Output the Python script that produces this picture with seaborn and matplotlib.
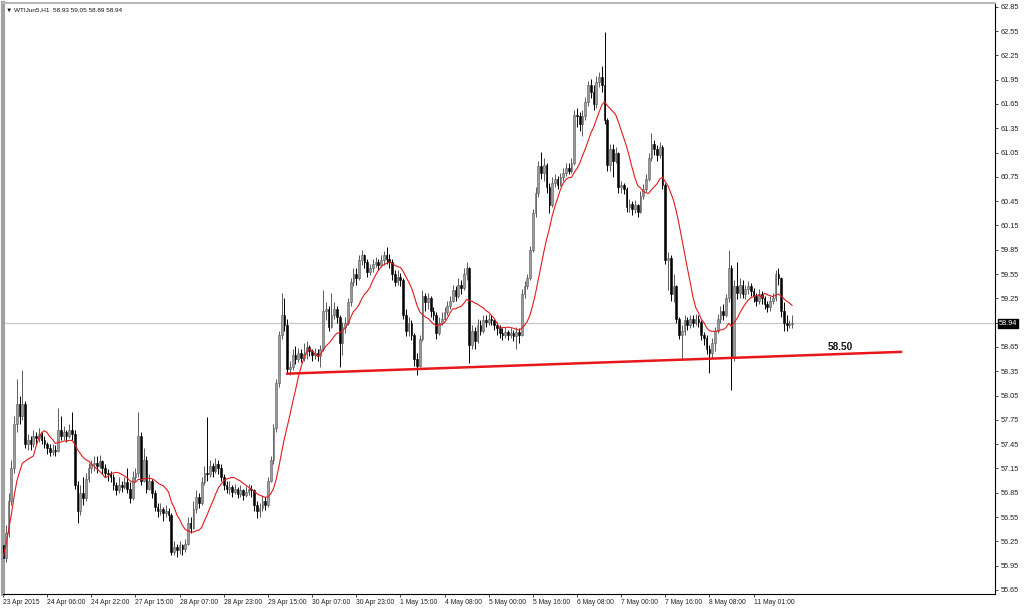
import numpy as np
import pandas as pd
import matplotlib
matplotlib.use("Agg")
import matplotlib.pyplot as plt
import seaborn as sns

# WTI Jun5 hourly bars (open of each bar = previous close)
first_open = 56.20
closes = [
    56.05, 56.35, 56.75, 57.15, 57.70, 57.95, 57.80, 57.95, 57.45, 57.50, 57.45, 57.55, 57.52, 57.58, 57.50, 57.45,
    57.40, 57.35, 57.38, 57.36, 57.62, 57.55, 57.60, 57.55, 57.62, 57.58, 56.95, 56.62, 56.85, 56.78, 57.02, 57.15,
    57.20, 57.22, 57.18, 57.24, 57.15, 57.10, 57.08, 57.05, 56.95, 56.88, 56.95, 56.92, 56.98, 56.90, 56.78, 57.05,
    57.10, 57.55, 57.00, 57.25, 56.90, 57.00, 56.85, 56.68, 56.62, 56.65, 56.60, 56.63, 56.58, 56.12, 56.18, 56.14,
    56.20, 56.15, 56.22, 56.48, 56.42, 56.65, 56.80, 56.72, 56.98, 57.10, 57.08, 57.18, 57.12, 57.20, 57.15, 57.05,
    56.95, 56.90, 56.92, 56.86, 56.90, 56.84, 56.88, 56.82, 56.86, 56.90, 56.88, 56.70, 56.62, 56.66, 56.75, 56.70,
    57.00, 57.25, 57.65, 58.20, 58.80, 59.05, 58.92, 58.38, 58.40, 58.55, 58.50, 58.58, 58.52, 58.56, 58.65, 58.60,
    58.55, 58.58, 58.54, 58.62, 59.10, 59.12, 58.90, 59.05, 59.12, 59.02, 58.70, 58.90, 58.95, 59.20, 59.45, 59.55,
    59.50, 59.72, 59.78, 59.70, 59.58, 59.62, 59.68, 59.70, 59.66, 59.72, 59.78, 59.74, 59.70, 59.55, 59.45, 59.52,
    59.48, 59.05, 58.85, 58.95, 58.80, 58.50, 58.42, 58.75, 59.28, 59.20, 59.25, 59.10, 59.05, 58.82, 58.95, 59.00,
    59.08, 59.15, 59.22, 59.35, 59.28, 59.42, 59.38, 59.55, 59.62, 58.68, 58.85, 58.72, 58.92, 58.85, 58.98, 58.96,
    59.00, 58.98, 58.92, 58.88, 58.82, 58.80, 58.84, 58.80, 58.82, 58.78, 58.84, 58.80, 59.30, 59.40, 59.50, 59.85,
    60.30, 60.55, 60.88, 60.80, 60.90, 60.62, 60.40, 60.68, 60.72, 60.65, 60.75, 60.80, 60.86, 60.82, 60.92, 61.52,
    61.50, 61.40, 61.50, 61.68, 61.88, 61.80, 61.65, 61.92, 61.98, 61.88, 61.45, 60.90, 61.10, 60.95, 61.05, 60.62,
    60.65, 60.60, 60.38, 60.42, 60.35, 60.40, 60.32, 60.52, 60.60, 60.72, 60.98, 61.15, 61.10, 61.02, 61.12, 60.65,
    59.72, 59.75, 59.30, 59.40, 59.00, 58.80, 58.85, 58.98, 58.92, 59.00, 58.95, 59.00, 58.96, 58.80, 58.76, 58.62,
    58.58, 58.70, 58.85, 59.00, 59.10, 59.05, 59.25, 59.62, 58.52, 59.40, 59.32, 59.42, 59.30, 59.36, 59.40, 59.34,
    59.28, 59.22, 59.30, 59.25, 59.18, 59.14, 59.22, 59.26, 59.55, 59.50, 59.10, 58.95, 58.92, 58.93, 58.94,
]
highs = [
    56.30, 56.45, 56.85, 57.25, 57.80, 58.25, 58.05, 58.37, 57.98, 57.58, 57.55, 57.62, 57.60, 57.65, 57.60, 57.55,
    57.48, 57.45, 57.45, 57.44, 57.90, 57.80, 57.68, 57.62, 57.70, 57.85, 57.62, 57.00, 56.95, 57.05, 57.10, 57.22,
    57.25, 57.30, 57.30, 57.32, 57.26, 57.20, 57.14, 57.12, 57.08, 56.98, 57.05, 57.00, 57.05, 57.15, 56.98, 57.12,
    57.15, 57.85, 57.60, 57.40, 57.30, 57.08, 57.02, 56.88, 56.72, 56.72, 56.68, 56.70, 56.66, 56.60, 56.26, 56.22,
    56.25, 56.22, 56.28, 56.55, 56.55, 56.75, 56.88, 56.85, 57.05, 57.18, 57.79, 57.25, 57.22, 57.28, 57.25, 57.20,
    57.08, 57.00, 57.00, 56.95, 56.96, 56.92, 56.94, 56.90, 56.93, 56.96, 56.95, 56.90, 56.75, 56.72, 56.82, 56.80,
    57.05, 57.30, 57.70, 58.25, 58.85, 59.32, 59.25, 59.00, 58.48, 58.62, 58.66, 58.64, 58.62, 58.70, 58.72, 58.68,
    58.62, 58.64, 58.62, 58.68, 59.35, 59.20, 59.15, 59.32, 59.20, 59.15, 59.05, 58.96, 59.02, 59.25, 59.50, 59.62,
    59.62, 59.78, 59.85, 59.80, 59.74, 59.68, 59.74, 59.76, 59.74, 59.78, 59.84, 59.88, 59.80, 59.74, 59.60, 59.60,
    59.56, 59.50, 59.12, 59.02, 58.98, 58.82, 58.58, 58.80, 59.35, 59.32, 59.32, 59.28, 59.14, 59.08, 59.02, 59.08,
    59.14, 59.22, 59.28, 59.42, 59.40, 59.50, 59.48, 59.62, 59.70, 59.64, 58.92, 58.90, 59.00, 58.98, 59.05, 59.04,
    59.06, 59.04, 59.00, 58.96, 58.92, 58.88, 58.90, 58.86, 58.88, 58.86, 58.90, 58.88, 59.36, 59.46, 59.55, 59.90,
    60.35, 60.62, 60.95, 61.06, 60.98, 60.92, 60.68, 60.75, 60.78, 60.76, 60.80, 60.86, 60.92, 60.92, 60.98, 61.58,
    61.60, 61.55, 61.58, 61.74, 61.94, 61.96, 61.88, 62.00, 62.05, 62.12, 62.54, 61.48, 61.15, 61.15, 61.12, 61.06,
    60.70, 60.68, 60.62, 60.48, 60.45, 60.46, 60.42, 60.58, 60.66, 60.78, 61.05, 61.29, 61.20, 61.14, 61.18, 61.14,
    60.68, 59.82, 59.78, 59.55, 59.42, 59.02, 58.92, 59.04, 59.02, 59.05, 59.04, 59.06, 59.04, 58.98, 58.84, 58.80,
    58.68, 58.76, 58.90, 59.06, 59.16, 59.18, 59.30, 59.85, 59.66, 59.48, 59.70, 59.50, 59.48, 59.42, 59.46, 59.44,
    59.38, 59.32, 59.36, 59.34, 59.28, 59.22, 59.28, 59.32, 59.60, 59.62, 59.52, 59.20, 59.05, 58.98, 59.05,
]
lows = [
    55.85, 56.00, 56.30, 56.70, 57.10, 57.60, 57.70, 57.75, 57.40, 57.38, 57.38, 57.42, 57.45, 57.48, 57.45, 57.40,
    57.33, 57.30, 57.32, 57.30, 57.35, 57.50, 57.50, 57.48, 57.52, 57.50, 56.90, 56.48, 56.58, 56.70, 56.75, 56.98,
    57.10, 57.12, 57.10, 57.15, 57.08, 57.05, 57.00, 56.98, 56.88, 56.82, 56.85, 56.86, 56.90, 56.85, 56.72, 56.76,
    57.00, 57.05, 56.95, 56.98, 56.85, 56.88, 56.78, 56.62, 56.55, 56.58, 56.50, 56.55, 56.50, 56.08, 56.08, 56.06,
    56.10, 56.08, 56.12, 56.20, 56.35, 56.40, 56.60, 56.66, 56.70, 56.95, 57.00, 57.05, 57.05, 57.10, 57.08, 57.00,
    56.88, 56.85, 56.84, 56.80, 56.83, 56.78, 56.80, 56.76, 56.80, 56.82, 56.80, 56.62, 56.54, 56.55, 56.62, 56.64,
    56.68, 56.98, 57.20, 57.60, 58.15, 58.75, 58.85, 58.32, 58.30, 58.36, 58.44, 58.46, 58.46, 58.48, 58.50, 58.54,
    58.48, 58.50, 58.48, 58.40, 58.60, 58.98, 58.85, 58.88, 59.00, 58.95, 58.40, 58.55, 58.82, 58.92, 59.15, 59.40,
    59.42, 59.48, 59.66, 59.62, 59.52, 59.54, 59.58, 59.64, 59.60, 59.64, 59.66, 59.68, 59.62, 59.48, 59.40, 59.42,
    59.40, 59.00, 58.78, 58.78, 58.74, 58.42, 58.30, 58.40, 58.72, 59.10, 59.12, 59.02, 58.98, 58.75, 58.80, 58.92,
    58.98, 59.05, 59.12, 59.20, 59.22, 59.25, 59.30, 59.35, 59.48, 58.45, 58.62, 58.62, 58.70, 58.80, 58.82, 58.90,
    58.92, 58.92, 58.86, 58.80, 58.76, 58.74, 58.76, 58.74, 58.76, 58.72, 58.62, 58.70, 58.78, 59.25, 59.36, 59.48,
    59.82, 60.25, 60.50, 60.72, 60.70, 60.55, 60.30, 60.38, 60.62, 60.60, 60.64, 60.70, 60.76, 60.78, 60.80, 60.90,
    61.36, 61.32, 61.25, 61.45, 61.62, 61.72, 61.58, 61.60, 61.86, 61.80, 61.40, 60.82, 60.82, 60.75, 60.92, 60.55,
    60.55, 60.54, 60.32, 60.32, 60.28, 60.30, 60.25, 60.30, 60.48, 60.56, 60.70, 60.95, 61.02, 60.95, 60.98, 60.60,
    59.68, 59.35, 59.22, 59.20, 58.95, 58.75, 58.49, 58.80, 58.86, 58.88, 58.90, 58.92, 58.90, 58.74, 58.68, 58.56,
    58.33, 58.52, 58.60, 58.82, 58.94, 58.98, 59.02, 59.20, 58.12, 58.48, 59.24, 59.26, 59.25, 59.24, 59.30, 59.28,
    59.20, 59.16, 59.18, 59.18, 59.12, 59.08, 59.10, 59.18, 59.22, 59.42, 59.02, 58.85, 58.85, 58.88, 58.89,
]

time_labels = ["23 Apr 2015", "24 Apr 06:00", "24 Apr 22:00", "27 Apr 15:00", "28 Apr 07:00",
               "28 Apr 23:00", "29 Apr 15:00", "30 Apr 07:00", "30 Apr 23:00", "1 May 15:00",
               "4 May 08:00", "5 May 00:00", "5 May 16:00", "6 May 08:00", "7 May 00:00",
               "7 May 16:00", "8 May 08:00", "11 May 01:00"]
bars_per_label = 16

price_ticks = [55.65, 55.95, 56.25, 56.55, 56.85, 57.15, 57.45, 57.75, 58.05, 58.35, 58.65,
               58.95, 59.25, 59.55, 59.85, 60.15, 60.45, 60.75, 61.05, 61.35, 61.65, 61.95,
               62.25, 62.55, 62.85]
hide_tick = 58.95   # covered by the current-price box
last_price = 58.94
ma_period = 12

# drawn support line (bar index, price) and its label
support_x = [102.6, 325.9]
support_y = [58.32, 58.59]
support_text = "58.50"
support_label_at = (299, 58.65)

header = "\u25bc WTIJun5,H1  58.93 59.05 58.89 58.94"

df = pd.DataFrame({"close": closes, "high": highs, "low": lows})
df["bar"] = np.arange(len(df))
df["open"] = [first_open] + closes[:-1]
df["ma"] = df["close"].rolling(ma_period, min_periods=1).mean()

sns.set_theme(style="white")
plt.rcParams["font.family"] = ["Liberation Sans", "DejaVu Sans"]

fig = plt.figure(figsize=(10.24, 6.08), dpi=100)
ax = fig.add_axes([3 / 1024, 14 / 608, 992 / 1024, 591 / 608])

up = df["close"] >= df["open"]
down = ~up
up_col, up_edge, down_col = "#9a9a9a", "#5a5a5a", "#000000"

ax.vlines(df.loc[up, "bar"], df.loc[up, "low"], df.loc[up, "high"], color=up_edge, lw=0.7, zorder=2)
ax.vlines(df.loc[down, "bar"], df.loc[down, "low"], df.loc[down, "high"], color=down_col, lw=0.7, zorder=2)
body = (df["close"] - df["open"]).abs().clip(lower=0.012)
bottom = df[["open", "close"]].min(axis=1)
ax.bar(df.loc[up, "bar"], body[up], bottom=bottom[up], width=0.62,
       color=up_col, edgecolor=up_edge, linewidth=0.4, zorder=3)
ax.bar(df.loc[down, "bar"], body[down], bottom=bottom[down], width=0.62,
       color=down_col, edgecolor=down_col, linewidth=0.4, zorder=3)

sns.lineplot(data=df, x="bar", y="ma", ax=ax, color="#e31a1c", lw=0.8, zorder=4, legend=False)

# current price line
ax.axhline(last_price, color="#c8c8c8", lw=0.9, zorder=1)

# support line
ax.plot(support_x, support_y, color="#e8171b", lw=1.8, zorder=5, solid_capstyle="butt")
ax.text(*support_label_at, support_text, fontsize=7.2, fontweight="bold", color="#111111",
        ha="left", va="center", zorder=6)

ax.set_xlim(0.1, 359.5)
ax.set_ylim(55.60, 62.897)

ax.yaxis.tick_right()
ax.set_yticks(price_ticks)
ax.set_yticklabels(["" if abs(t - hide_tick) < 1e-6 else f"{t:.2f}" for t in price_ticks])
ax.tick_params(axis="y", which="major", direction="out", length=2.5, width=0.6, pad=1.5,
               labelsize=5.3, colors="#222222", right=True, left=False)

xt = np.arange(len(time_labels)) * bars_per_label
ax.set_xticks(xt)
ax.set_xticklabels(time_labels, ha="left")
ax.tick_params(axis="x", which="major", direction="out", length=2.5, width=0.6, pad=1,
               labelsize=4.9, colors="#222222", bottom=True)
ax.set_xlabel("")
ax.set_ylabel("")

for side in ["right", "bottom"]:
    ax.spines[side].set_color("#000000")
    ax.spines[side].set_linewidth(0.8)
ax.spines["left"].set_color("#a0a0a0")
ax.spines["left"].set_linewidth(3)
ax.spines["top"].set_color("#b8b8b8")
ax.spines["top"].set_linewidth(1.5)

# price box on the axis
ax.text(1.004, last_price, f"{last_price:.2f}", transform=ax.get_yaxis_transform(),
        fontsize=5.3, color="white", ha="left", va="center",
        bbox=dict(boxstyle="square,pad=0.12", fc="black", ec="black"))

ax.text(0.003, 0.992, header, transform=ax.transAxes, fontsize=4.6, color="#111111",
        ha="left", va="top")

fig.savefig("out.png", dpi=100)
